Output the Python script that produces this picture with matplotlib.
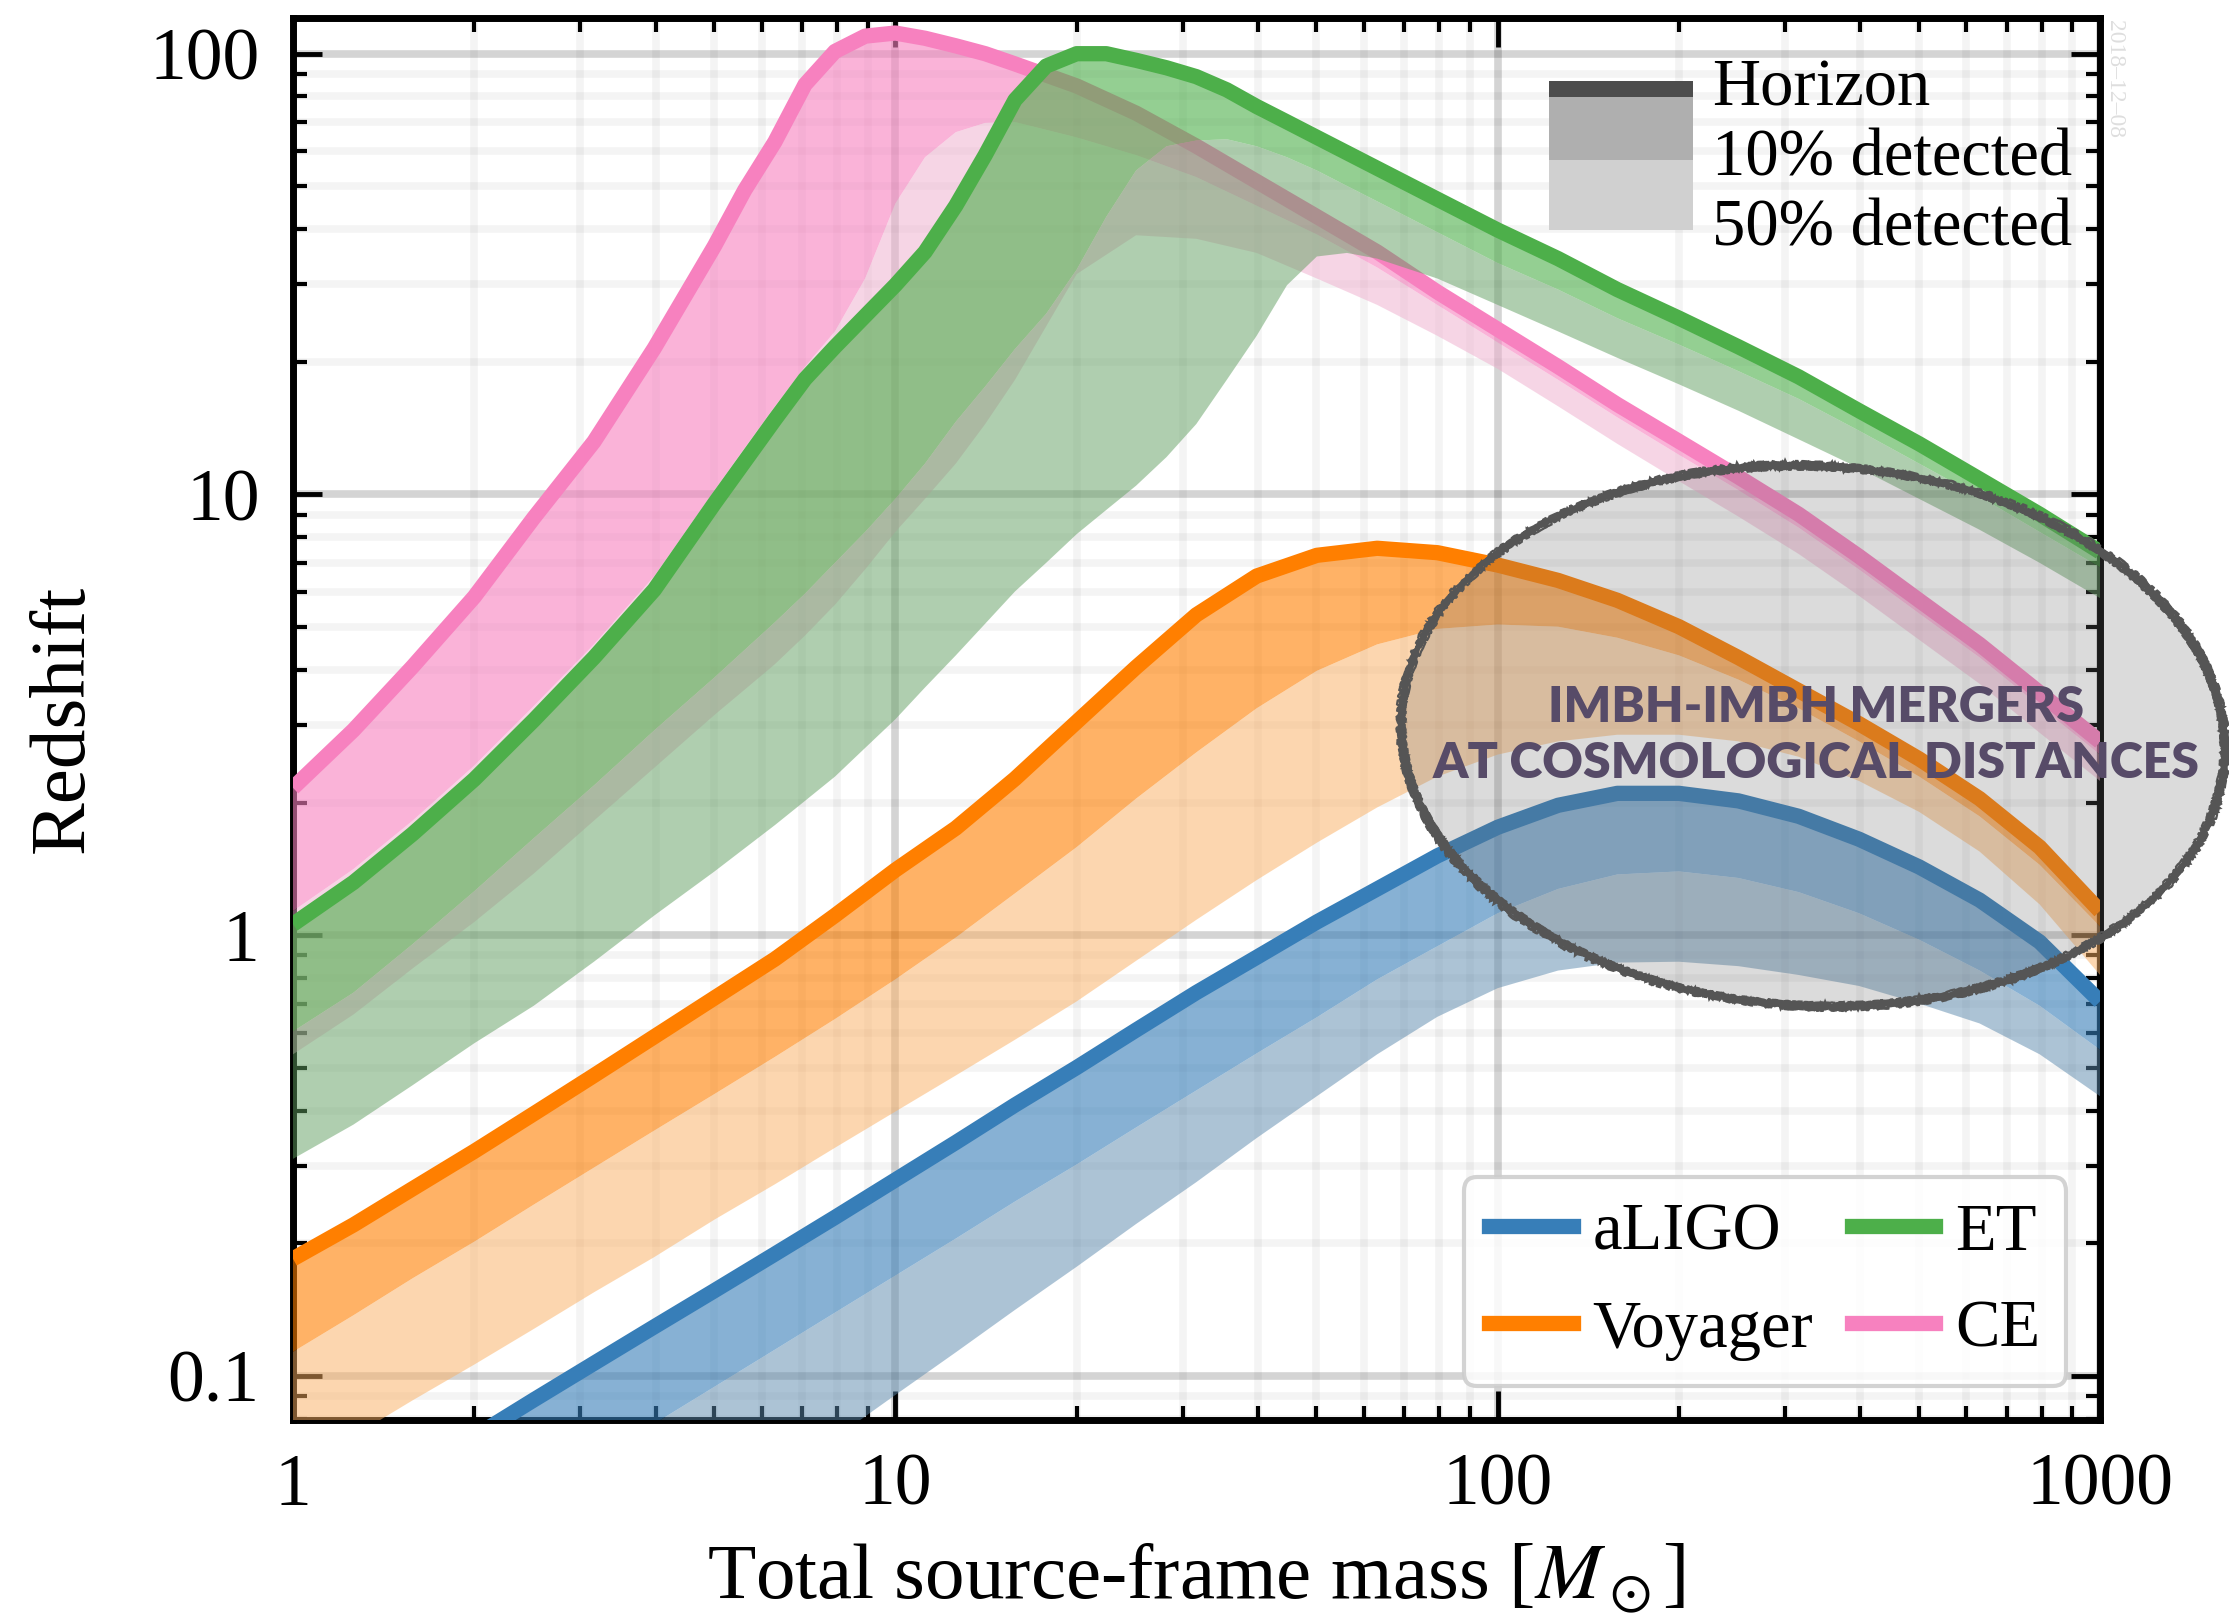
import numpy as np
import matplotlib
matplotlib.use('Agg')
import matplotlib.pyplot as plt
from matplotlib.patches import Ellipse, Rectangle
from matplotlib.lines import Line2D
from matplotlib.ticker import LogLocator, NullFormatter

plt.rcParams['font.family'] = ['Liberation Serif', 'DejaVu Serif']
plt.rcParams['mathtext.fontset'] = 'stix'

# ---------------- data ----------------
detectors = ['aLIGO', 'Voyager', 'ET', 'CE']
line_colors = ['#377eb8', '#ff7f00', '#4daf4a', '#f781bf']
light_colors = ['#5b89ad', '#fbaf61', '#619f61', '#efadcd']

x_ticks = [1, 10, 100, 1000]
x_tick_labels = ['1', '10', '100', '1000']
y_ticks = [0.1, 1, 10, 100]
y_tick_labels = ['0.1', '1', '10', '100']

# mass grids (total source-frame mass, Msun)
mass_std = [1, 1.26, 1.58, 2.0, 2.51, 3.16, 3.98, 5.01, 6.31, 7.94, 10, 12.6, 15.8, 20,
            25.1, 31.6, 39.8, 50.1, 63.1, 79.4, 100, 126, 158, 200, 251, 316, 398, 501,
            631, 794, 1000]
mass_ce = [1, 1.26, 1.58, 2.0, 2.51, 3.16, 3.98, 5.01, 5.62, 6.31, 7.08, 7.94, 8.91, 10,
           11.2, 12.6, 14.1, 15.8, 20, 25.1, 31.6, 39.8, 50.1, 63.1, 79.4, 100, 126, 158,
           200, 251, 316, 398, 501, 631, 794, 1000]
mass_et = [1, 1.26, 1.58, 2.0, 2.51, 3.16, 3.98, 5.01, 6.31, 7.08, 7.94, 8.91, 10, 11.2,
           12.6, 14.1, 15.8, 17.8, 20, 22.4, 25.1, 28.2, 31.6, 35.5, 39.8, 44.7, 50.1, 56.2,
           63.1, 79.4, 100, 126, 158, 200, 251, 316, 398, 501, 631, 794, 1000]

# aLIGO
aligo_horizon = [0.0411, 0.0498, 0.0603, 0.0729, 0.0883, 0.1069, 0.1294, 0.1563, 0.1892,
                 0.2291, 0.2786, 0.3388, 0.4121, 0.5012, 0.6095, 0.7413, 0.8913, 1.072,
                 1.274, 1.514, 1.758, 1.972, 2.099, 2.099, 2.018, 1.862, 1.652, 1.429,
                 1.202, 0.966, 0.708]
aligo_10 = [0.0244, 0.0296, 0.0360, 0.0437, 0.0530, 0.0643, 0.0780, 0.0946, 0.1148, 0.1393,
            0.1690, 0.2051, 0.2489, 0.3020, 0.3664, 0.4446, 0.5395, 0.6516, 0.7943, 0.9441,
            1.122, 1.274, 1.374, 1.396, 1.349, 1.253, 1.122, 0.977, 0.832, 0.692, 0.550]
aligo_50 = [0.0097, 0.0121, 0.0152, 0.0190, 0.0237, 0.0296, 0.0371, 0.0463, 0.0579, 0.0724,
            0.0906, 0.1132, 0.1413, 0.1770, 0.2213, 0.2754, 0.3467, 0.4315, 0.5370, 0.6531,
            0.7586, 0.8318, 0.8670, 0.8710, 0.8511, 0.8128, 0.7674, 0.6998, 0.6310, 0.5370,
            0.4315]

# Voyager
voyager_horizon = [0.1845, 0.2203, 0.2661, 0.3236, 0.3936, 0.4808, 0.5888, 0.7211, 0.8831,
                   1.109, 1.406, 1.750, 2.265, 3.048, 4.055, 5.333, 6.531, 7.278, 7.551,
                   7.379, 6.918, 6.383, 5.754, 5.012, 4.266, 3.589, 3.020, 2.512, 2.042,
                   1.585, 1.135]
voyager_10 = [0.1135, 0.1374, 0.1667, 0.2018, 0.2449, 0.2972, 0.3606, 0.4365, 0.5297, 0.6457,
              0.7943, 0.9886, 1.245, 1.585, 2.042, 2.600, 3.273, 3.981, 4.571, 4.955, 5.070,
              5.012, 4.732, 4.315, 3.802, 3.273, 2.754, 2.291, 1.862, 1.445, 1.047]
voyager_50 = [0.0607, 0.0731, 0.0881, 0.1062, 0.1279, 0.1549, 0.1862, 0.2265, 0.2723, 0.3296,
              0.3981, 0.4808, 0.5794, 0.7079, 0.8750, 1.084, 1.334, 1.622, 1.950, 2.291,
              2.570, 2.754, 2.851, 2.851, 2.754, 2.541, 2.239, 1.905, 1.549, 1.175, 0.8128]

# ET
et_horizon = [1.059, 1.318, 1.698, 2.259, 3.076, 4.266, 6.081, 9.55, 14.79, 18.28, 21.63,
              25.41, 29.85, 35.48, 45.19, 58.88, 78.52, 93.76, 100.0, 100.0, 96.6, 92.9,
              88.7, 82.8, 75.9, 70.0, 64.6, 59.6, 54.95, 46.77, 39.81, 34.28, 29.17, 25.12,
              21.63, 18.49, 15.49, 13.03, 10.84, 9.02, 7.41]
et_10 = [0.605, 0.741, 0.955, 1.259, 1.660, 2.188, 2.917, 3.846, 5.129, 5.957, 6.998, 8.222,
         9.772, 11.75, 14.62, 17.58, 21.38, 25.70, 32.36, 42.66, 54.33, 61.66, 63.53, 63.97,
         61.66, 58.21, 54.33, 50.12, 46.24, 39.36, 33.50, 29.17, 25.12, 21.88, 19.05, 16.48,
         13.96, 11.75, 9.886, 8.222, 6.839]
et_50 = [0.311, 0.372, 0.457, 0.569, 0.692, 0.871, 1.109, 1.396, 1.778, 2.018, 2.291, 2.661,
         3.090, 3.648, 4.315, 5.093, 6.026, 6.998, 8.128, 9.226, 10.47, 12.16, 14.45, 18.20,
         22.91, 29.85, 34.67, 35.32, 34.28, 30.90, 26.92, 23.44, 20.42, 17.78, 15.49, 13.34,
         11.48, 9.772, 8.318, 6.998, 5.821]

# CE
ce_horizon = [2.16, 2.92, 4.07, 5.86, 8.85, 13.18, 21.48, 36.64, 48.98, 63.1, 85.1, 101.2,
              109.6, 111.4, 108.4, 104.2, 100.0, 94.8, 84.5, 73.3, 61.7, 51.3, 42.7, 35.5,
              28.8, 23.7, 19.5, 16.0, 13.2, 10.96, 9.02, 7.24, 5.75, 4.57, 3.55, 2.75]
ce_10 = [1.135, 1.413, 1.820, 2.427, 3.311, 4.571, 6.531, 10.23, 12.74, 15.85, 19.50, 23.44,
         30.90, 45.71, 58.21, 66.37, 69.66, 69.98, 64.57, 58.88, 52.48, 45.19, 38.90, 32.73,
         26.92, 22.13, 18.20, 14.96, 12.30, 10.23, 8.41, 6.76, 5.37, 4.27, 3.31, 2.57]
ce_50 = [0.537, 0.661, 0.841, 1.072, 1.380, 1.820, 2.399, 3.162, 3.606, 4.121, 4.786, 5.623,
         6.761, 8.222, 9.772, 11.75, 14.45, 18.20, 31.62, 38.73, 38.02, 35.32, 30.90, 26.92,
         22.91, 19.28, 15.85, 13.03, 10.72, 8.91, 7.33, 5.89, 4.68, 3.72, 2.88, 2.24]

legend_gray_labels = ['Horizon', '10% detected', '50% detected']
annotation_lines = ['IMBH-IMBH MERGERS', 'AT COSMOLOGICAL DISTANCES']
date_stamp = '2018\u201312\u201308'

# ---------------- figure ----------------
W, H = 2229, 1616
fig = plt.figure(figsize=(W / 100, H / 100), dpi=100)
ax = fig.add_axes([293 / W, 1 - 1420 / H, 1807 / W, 1402 / H])
ax.set_xscale('log')
ax.set_yscale('log')


def draw(mass, zh, z10, z50, color, light, z0):
    ax.fill_between(mass, z50, z10, facecolor=light, alpha=0.5, lw=0, zorder=z0)
    ax.fill_between(mass, z10, zh, facecolor=color, alpha=0.6, lw=0, zorder=z0 + 0.1)
    ax.plot(mass, zh, color=color, lw=11, zorder=z0 + 0.2, solid_capstyle='butt',
            solid_joinstyle='round')


draw(mass_ce, ce_horizon, ce_10, ce_50, line_colors[3], light_colors[3], 3.0)
draw(mass_et, et_horizon, et_10, et_50, line_colors[2], light_colors[2], 3.3)
draw(mass_std, voyager_horizon, voyager_10, voyager_50, line_colors[1], light_colors[1], 3.6)
draw(mass_std, aligo_horizon, aligo_10, aligo_50, line_colors[0], light_colors[0], 3.9)

ax.set_xlim(1, 1000)
ax.set_ylim(0.0795, 120.5)
ax.set_xticks(x_ticks, labels=x_tick_labels)
ax.set_yticks(y_ticks, labels=y_tick_labels)
ax.xaxis.set_minor_locator(LogLocator(base=10, subs=np.arange(2, 10), numticks=30))
ax.yaxis.set_minor_locator(LogLocator(base=10, subs=np.arange(2, 10), numticks=30))
ax.xaxis.set_minor_formatter(NullFormatter())
ax.yaxis.set_minor_formatter(NullFormatter())
ax.tick_params(which='both', direction='in', top=True, right=True)
ax.tick_params(which='major', length=21, width=3.5, labelsize=53, pad=24)
ax.tick_params(which='minor', length=10, width=3)
for s in ax.spines.values():
    s.set_linewidth(5)
ax.set_axisbelow(True)
ax.grid(which='major', color='k', alpha=0.17, lw=5.5)
ax.grid(which='minor', color='k', alpha=0.045, lw=5.5)

ax.set_xlabel(r'Total source-frame mass [$M_\odot$]', fontsize=57)
ax.set_ylabel('Redshift', fontsize=57)
ax.xaxis.set_label_coords(0.5, -0.1127)
ax.xaxis.label.set_va('center')
ax.yaxis.set_label_coords(-0.1267, 0.5)
ax.yaxis.label.set_va('center')

handles = [Line2D([], [], color=c, lw=11) for c in line_colors]
leg = ax.legend(handles, detectors, ncol=2, loc='lower right',
                bbox_to_anchor=(0.9812, 0.0243), fontsize=48, frameon=True,
                fancybox=True, framealpha=0.85, edgecolor='#cccccc',
                handlelength=1.25, handletextpad=0.3, columnspacing=0.58,
                labelspacing=0.54, borderpad=0.38, borderaxespad=0)
leg.get_frame().set_linewidth(3)
leg.set_zorder(20)


# gray key for horizon / detection fractions (pixel positions -> inches)
def px_rect(x0, y0, x1, y1, color):
    r = Rectangle((x0 / 100, (H - y1) / 100), (x1 - x0) / 100, (y1 - y0) / 100,
                  transform=fig.dpi_scale_trans, facecolor=color, lw=0, zorder=5)
    fig.add_artist(r)


px_rect(1549, 97, 1693, 160, '#afafaf')
px_rect(1549, 160, 1693, 230, '#d0d0d0')
px_rect(1549, 81, 1693, 97, '#4d4d4d')
for lab, yb in zip(legend_gray_labels, [105, 175, 245]):
    fig.text(1712 / W, 1 - yb / H, lab, fontsize=48, va='baseline', ha='left', zorder=6)

fig.text(2114 / W, 1 - 20 / H, date_stamp, rotation=-90, ha='center', va='top',
         color='#dedede', fontsize=17)

# highlighted ellipse
cx, cy = 1813 / 100, (H - 736) / 100
fig.add_artist(Ellipse((cx, cy), 8.24, 5.40, angle=-3, transform=fig.dpi_scale_trans,
                       facecolor='#707070', alpha=0.25, lw=0, zorder=5))
strokes = [(0.00, 0.00, -3.0, 3.6, (1.2, 14, 30)),
           (0.05, -0.04, -2.6, 2.4, (1.6, 22, 25)),
           (-0.04, 0.05, -3.5, 2.4, (1.4, 18, 35)),
           (0.02, 0.03, -2.2, 2.0, (2.0, 30, 20)),
           (-0.03, -0.02, -3.8, 2.0, (1.0, 10, 40)),
           (0.07, 0.02, -3.2, 1.6, (1.8, 26, 30)),
           (-0.06, -0.05, -2.8, 1.6, (1.5, 16, 30))]
for dw, dh, da, lw, sk in strokes:
    e = Ellipse((cx, cy), 8.24 + dw, 5.40 + dh, angle=da, transform=fig.dpi_scale_trans,
                fill=False, edgecolor='#555555', lw=lw, zorder=6)
    e.set_sketch_params(*sk)
    fig.add_artist(e)

for txt, yc in zip(annotation_lines, [707, 763]):
    fig.text(1816 / W, 1 - yc / H, txt, ha='center', va='center', fontsize=36,
             fontweight='heavy', family=['Lato', 'DejaVu Sans'], color='#574b68', zorder=7)

fig.savefig('out.png', dpi=100)
